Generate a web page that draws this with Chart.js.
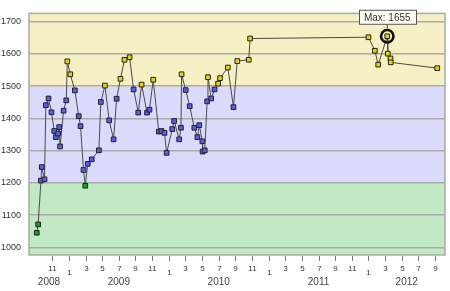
<!DOCTYPE html>
<html><head><meta charset="utf-8">
<script src="https://cdn.jsdelivr.net/npm/chart.js@4/dist/chart.umd.min.js"></script>
<style>html,body{margin:0;padding:0;background:#fff}canvas{display:block}</style>
</head><body>
<canvas id="c" width="450" height="291"></canvas>
<script>
// ---- data ----
const dates = [
 "2008-09-05","2008-09-10","2008-09-20","2008-09-23","2008-10-03","2008-10-08","2008-10-18","2008-10-29",
 "2008-11-08","2008-11-14","2008-11-22","2008-11-26","2008-11-29","2008-12-12","2008-12-22","2008-12-26",
 "2009-01-06","2009-01-23","2009-02-06","2009-02-12","2009-02-22","2009-02-28","2009-03-09","2009-03-24",
 "2009-04-19","2009-04-26","2009-05-11","2009-05-27","2009-06-12","2009-06-23","2009-07-07","2009-07-22",
 "2009-08-10","2009-08-25","2009-09-11","2009-09-23","2009-10-13","2009-10-22","2009-11-05","2009-11-25",
 "2009-12-05","2009-12-16","2009-12-24","2010-01-14","2010-01-21","2010-02-08","2010-02-14","2010-02-16",
 "2010-03-02","2010-03-17","2010-04-03","2010-04-14","2010-04-21","2010-05-02","2010-05-03","2010-05-11",
 "2010-05-20","2010-05-23","2010-06-04","2010-06-16","2010-06-29","2010-07-06","2010-08-04","2010-08-25",
 "2010-09-08","2010-10-20","2010-10-25","2012-01-01","2012-01-25","2012-02-06","2012-03-09","2012-03-11",
 "2012-03-21","2012-03-22","2012-09-09"
];
const values = [
 1045,1071,1207,1249,1211,1441,1462,1419,
 1361,1342,1353,1373,1313,1424,1456,1577,
 1537,1487,1407,1376,1240,1191,1259,1273,
 1301,1451,1502,1394,1335,1461,1523,1582,
 1590,1490,1418,1505,1418,1427,1520,1359,
 1361,1355,1293,1367,1392,1335,1371,1537,
 1488,1438,1371,1342,1379,1329,1297,1301,
 1453,1528,1462,1490,1508,1525,1558,1435,
 1578,1582,1648,1652,1610,1567,1655,1601,
 1586,1574,1556
];
const yTicks = [1000,1100,1200,1300,1400,1500,1600,1700];
const bandLimits = [1200,1500];
const monthTicks = [
 "2008-11","2009-01","2009-03","2009-05","2009-07","2009-09","2009-11",
 "2010-01","2010-03","2010-05","2010-07","2010-09","2010-11",
 "2011-01","2011-03","2011-05","2011-07","2011-09","2011-11",
 "2012-01","2012-03","2012-05","2012-07","2012-09"
];
const years = [2008,2009,2010,2011,2012];

// ---- helpers ----
function toM(s){
  const p = s.split('-').map(Number);
  const y=p[0], m=p[1], d=p[2]||1;
  const dim = new Date(y, m, 0).getDate();
  return (y-2008)*12 + (m-1) + (d-1)/dim;
}
const pts = dates.map((d,i)=>({x:toM(d), y:values[i]}));
const maxVal = Math.max(...values);
const maxIdx = values.indexOf(maxVal);

const BAND_COLORS = ['#c1eac4','#dadafb','#f5f1c5'];
const PT_COLORS = ['#19a019','#5b5bf0','#e8d400'];
function bandIndex(v){ return v < bandLimits[0] ? 0 : (v < bandLimits[1] ? 1 : 2); }

const FONT = "'Liberation Sans', Arial, sans-serif";

const deco = {
  id:'deco',
  beforeDraw(chart){
    const {ctx, chartArea:a, scales:{y}} = chart;
    ctx.save();
    ctx.fillStyle='#fff'; ctx.fillRect(0,0,chart.width,chart.height);
    const edges = [y.min, bandLimits[0], bandLimits[1], y.max];
    for (let i=0;i<3;i++){
      const top = y.getPixelForValue(edges[i+1]);
      const bot = y.getPixelForValue(edges[i]);
      ctx.fillStyle = BAND_COLORS[i];
      ctx.fillRect(a.left, top, a.right-a.left, bot-top);
    }
    ctx.restore();
  },
  afterDraw(chart){
    const {ctx, chartArea:a, scales:{x,y}} = chart;
    ctx.save();
    // plot border
    ctx.strokeStyle='#aaa'; ctx.lineWidth=1.5;
    ctx.strokeRect(a.left, a.top, a.right-a.left, a.bottom-a.top);
    // x ticks & month labels
    ctx.strokeStyle='#777'; ctx.lineWidth=1;
    ctx.fillStyle='#333';
    ctx.textAlign='center'; ctx.textBaseline='middle';
    monthTicks.forEach(t=>{
      const m = toM(t);
      const px = Math.round(x.getPixelForValue(m))+0.5;
      ctx.beginPath(); ctx.moveTo(px, a.bottom+1); ctx.lineTo(px, a.bottom+6); ctx.stroke();
      const mon = Number(t.split('-')[1]);
      ctx.font = "8px "+FONT;
      ctx.fillText(String(mon), px, mon===1 ? a.bottom+18 : a.bottom+14);
    });
    // year labels
    ctx.font = "10px "+FONT;
    ctx.fillStyle='#444';
    years.forEach(yr=>{
      const l = Math.max(x.getPixelForValue((yr-2008)*12), a.left);
      const r = Math.min(x.getPixelForValue((yr-2007)*12), a.right);
      if (r>l) ctx.fillText(String(yr), (l+r)/2, a.bottom+27);
    });
    // max annotation
    const mx = x.getPixelForValue(pts[maxIdx].x);
    const my = y.getPixelForValue(pts[maxIdx].y);
    ctx.strokeStyle='#111'; ctx.lineWidth=2.6;
    ctx.beginPath(); ctx.arc(mx, my, 6.2, 0, Math.PI*2); ctx.stroke();
    const label = 'Max: ' + maxVal;
    ctx.font = "10px "+FONT;
    const w = ctx.measureText(label).width + 10;
    const bh = 14, bb = my - 12.5;
    ctx.strokeStyle='#555'; ctx.lineWidth=1;
    ctx.beginPath(); ctx.moveTo(mx, bb); ctx.lineTo(mx, my-7.5); ctx.stroke();
    ctx.fillStyle='#fffff4';
    ctx.fillRect(Math.round(mx-w/2)+0.5, bb-bh+0.5, Math.round(w), bh);
    ctx.strokeRect(Math.round(mx-w/2)+0.5, bb-bh+0.5, Math.round(w), bh);
    ctx.fillStyle='#333';
    ctx.fillText(label, mx, bb-bh/2+1);
    ctx.restore();
  }
};

new Chart(document.getElementById('c'), {
  type:'line',
  data:{datasets:[{
    data: pts,
    borderColor:'#4a4a4a', borderWidth:1, tension:0, fill:false,
    pointStyle:'rect', pointRadius:3.3, pointBorderWidth:1, pointBorderColor:'#222',
    pointBackgroundColor: c => PT_COLORS[bandIndex(c.raw ? c.raw.y : 0)]
  }]},
  options:{
    responsive:false, animation:false, devicePixelRatio:1,
    layout:{padding:{left:0,right:5,top:3,bottom:0}},
    plugins:{legend:{display:false}, tooltip:{enabled:false}},
    scales:{
      x:{type:'linear', min:7.2, max:57.2,
         grid:{display:false}, ticks:{display:false}, border:{display:false},
         afterFit:s=>{s.height=36;}},
      y:{min:976, max:1726,
         afterBuildTicks:s=>{s.ticks=yTicks.map(v=>({value:v}));},
         grid:{color:'#aaa', lineWidth:1.5, drawTicks:false},
         border:{display:false},
         ticks:{padding:8, color:'#333', font:{size:9, family:FONT}, callback:v=>String(v)},
         afterFit:s=>{s.width=29;}}
    }
  },
  plugins:[deco]
});
</script>
</body></html>
